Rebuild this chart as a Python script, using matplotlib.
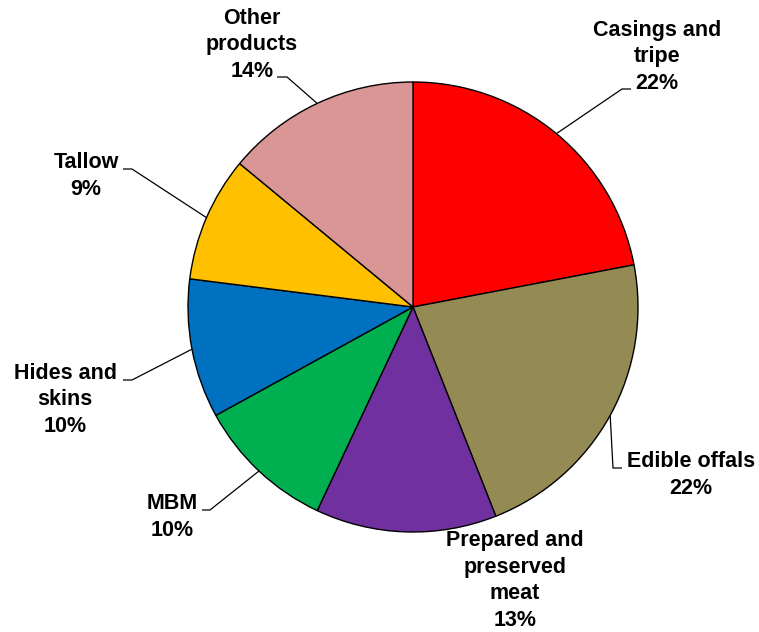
import numpy as np
import matplotlib
matplotlib.use("Agg")
import matplotlib.pyplot as plt

categories = ["Casings and\ntripe", "Edible offals", "Prepared and\npreserved\nmeat",
              "MBM", "Hides and\nskins", "Tallow", "Other\nproducts"]
values = [22, 22, 13, 10, 10, 9, 14]
colors = ["#FF0000", "#948A54", "#7030A0", "#00B050", "#0070C0", "#FFC000", "#D99694"]

W, H = 759, 632
fig = plt.figure(figsize=(W / 100, H / 100), dpi=100)
ax = fig.add_axes([0, 0, 1, 1])

cx, cy, R = 413, -307, 225
wedges, _ = ax.pie(values, colors=colors, startangle=90, counterclock=False,
                   center=(cx, cy), radius=R,
                   wedgeprops=dict(edgecolor="black", linewidth=1.0))
ax.set_xlim(0, W)
ax.set_ylim(-H, 0)
ax.set_aspect("equal")
ax.axis("off")

# label layout: (text x, last-line baseline y, elbow point, horizontal end) in pixels
layout = [
    ((657, 89), (622, 89), (631, 89)),
    ((691, 494), (613, 468), (622, 468)),
    ((515, 626), None, None),
    ((172, 536), (210, 510), (202, 510)),
    ((65, 432), (132, 380), (123, 380)),
    ((86, 195), (132, 169), (123, 169)),
    ((252, 77), (287, 77), (277, 77)),
]

font = dict(family=["Liberation Sans", "DejaVu Sans"], fontsize=15.5, fontweight="bold")
total = sum(values)
for w, cat, v, (tpos, elbow, hend) in zip(wedges, categories, values, layout):
    label = f"{cat}\n{round(100 * v / total)}%"
    ax.text(tpos[0], -tpos[1], label, ha="center", va="baseline",
            multialignment="center", linespacing=1.35, **font)
    if elbow is not None:
        mid = np.deg2rad((w.theta1 + w.theta2) / 2)
        sx, sy = cx + R * np.cos(mid), cy + R * np.sin(mid)
        ax.plot([sx, elbow[0], hend[0]], [sy, -elbow[1], -hend[1]],
                color="black", lw=0.9, solid_capstyle="butt")

fig.savefig("out.png", dpi=100)
